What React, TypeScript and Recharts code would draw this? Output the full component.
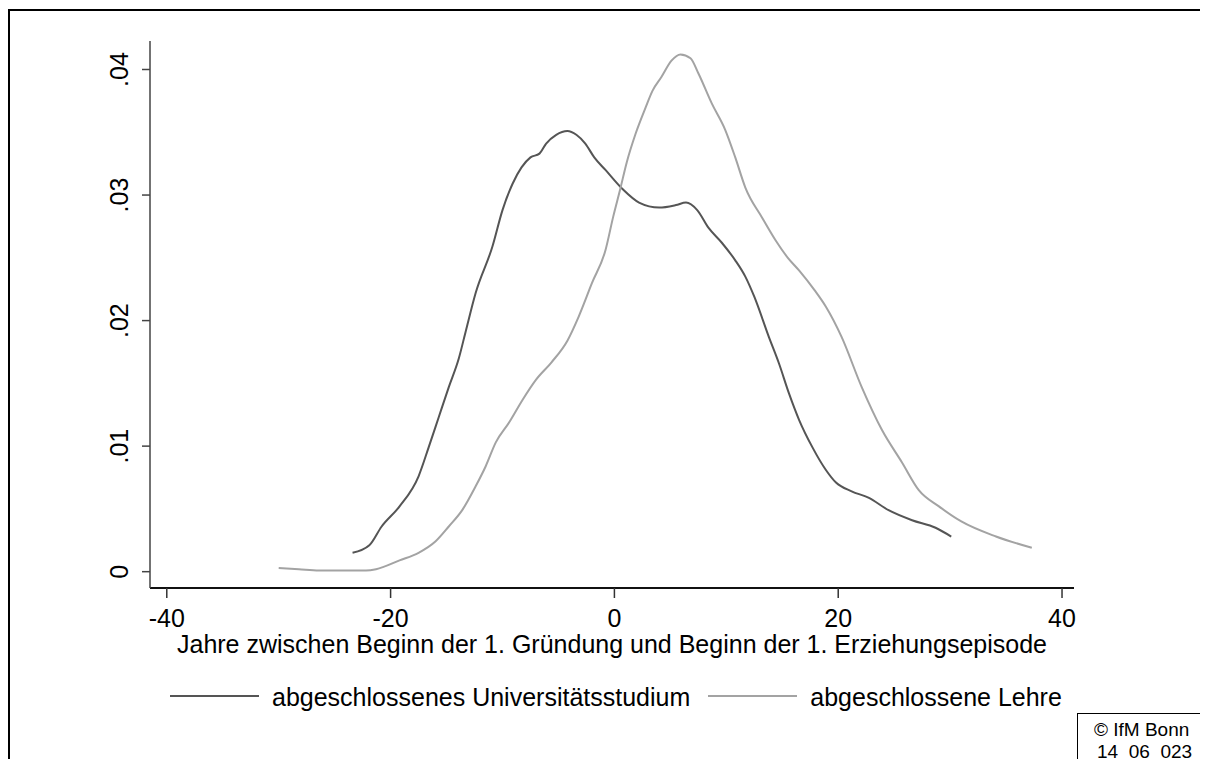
import React from 'react';
import { LineChart, Line, XAxis, YAxis } from 'recharts';

const uniX = [-23.4, -21.9, -20.8, -19.2, -17.5, -16.6, -15.7, -14.8, -13.9, -13.3, -12.4, -10.9, -10.0, -9.1, -8.3, -7.5, -6.7, -6.1, -5.2, -4.2, -3.4, -2.6, -1.8, -0.8, 0.7, 2.2, 4.0, 5.5, 6.4, 7.4, 8.4, 9.6, 10.8, 11.7, 12.5, 13.8, 14.7, 15.6, 16.5, 17.7, 18.9, 19.8, 21.2, 22.7, 24.5, 26.6, 28.7, 30.1];
const uniY = [0.0015, 0.0021, 0.0036, 0.0052, 0.0076, 0.0099, 0.0123, 0.0147, 0.0170, 0.0191, 0.0222, 0.0259, 0.0288, 0.0309, 0.0322, 0.033, 0.0333, 0.0341, 0.0348, 0.0351, 0.0348, 0.0341, 0.033, 0.032, 0.0305, 0.0294, 0.029, 0.0292, 0.0294, 0.0288, 0.0274, 0.0262, 0.0248, 0.0235, 0.0219, 0.0187, 0.0166, 0.0142, 0.0121, 0.0099, 0.0081, 0.0071, 0.0064, 0.0059, 0.0049, 0.0041, 0.0035, 0.0028];

const lehreX = [-30.0, -28.2, -26.4, -24.0, -22.2, -21.3, -19.2, -17.5, -16.0, -14.8, -13.6, -12.4, -11.5, -10.6, -9.4, -8.2, -7.0, -5.6, -4.2, -3.2, -2.0, -0.8, -0.1, 0.5, 1.1, 1.9, 2.8, 3.4, 4.2, 5.1, 5.9, 6.8, 7.5, 8.7, 9.9, 10.8, 11.7, 13.2, 14.4, 15.5, 16.5, 17.9, 18.9, 20.3, 22.1, 23.9, 25.7, 27.2, 29.0, 31.0, 34.1, 37.3];
const lehreY = [0.0003, 0.0002, 0.0001, 0.0001, 0.0001, 0.0002, 0.0009, 0.0015, 0.0024, 0.0036, 0.0049, 0.0068, 0.0084, 0.0103, 0.0119, 0.0137, 0.0153, 0.0167, 0.0184, 0.0203, 0.023, 0.0256, 0.0283, 0.0304, 0.0326, 0.0349, 0.037, 0.0383, 0.0394, 0.0407, 0.0412, 0.0409, 0.0397, 0.0373, 0.0352, 0.033, 0.0306, 0.0282, 0.0264, 0.025, 0.024, 0.0224, 0.0211, 0.0187, 0.0147, 0.0113, 0.0087, 0.0065, 0.0052, 0.004, 0.0028, 0.0019];

const xTicks = [-40, -20, 0, 20, 40];
const yTicks = [0, 0.01, 0.02, 0.03, 0.04];
const yTickLabels = ['0', '.01', '.02', '.03', '.04'];
const seriesNames = ['abgeschlossenes Universitätsstudium', 'abgeschlossene Lehre'];
const seriesColors = ['#555555', '#a3a3a3'];
const xAxisTitle = 'Jahre zwischen Beginn der 1. Gründung und Beginn der 1. Erziehungsepisode';
const sourceLines = ['© IfM Bonn', '14  06  023'];

const uniData = uniX.map((x, i) => ({ x, y: uniY[i] }));
const lehreData = lehreX.map((x, i) => ({ x, y: lehreY[i] }));
const seriesData = [uniData, lehreData];

const FONT = '"Liberation Sans", Arial, Helvetica, sans-serif';

const YTick = (props: any) => {
  const { x, y, payload } = props;
  const idx = yTicks.indexOf(payload.value);
  return (
    <text
      x={x}
      y={y}
      transform={`rotate(-90 ${x} ${y})`}
      textAnchor="middle"
      fontSize={25}
      fontFamily={FONT}
      fill="#000"
    >
      {idx >= 0 ? yTickLabels[idx] : String(payload.value)}
    </text>
  );
};

const XTitle = (props: any) => {
  const vb = props.viewBox || {};
  return (
    <text
      x={vb.x + vb.width / 2}
      y={vb.y + 65}
      textAnchor="middle"
      fontSize={25}
      fontFamily={FONT}
      fill="#000"
    >
      {xAxisTitle}
    </text>
  );
};

export default function App() {
  return (
    <div
      style={{
        position: 'relative',
        width: 1200,
        height: 759,
        marginBottom: -8,
        overflow: 'hidden',
        fontFamily: FONT,
        background: '#fff',
      }}
    >
      <LineChart width={1200} height={759} margin={{ top: 33, right: 134, bottom: 109, left: 82 }}>
        <XAxis
          type="number"
          dataKey="x"
          domain={[-41.5, 41.07]}
          allowDataOverflow
          ticks={xTicks}
          interval={0}
          height={70}
          tickSize={10}
          tickMargin={11}
          axisLine={{ stroke: '#111', strokeWidth: 2 }}
          tickLine={{ stroke: '#333', strokeWidth: 1.5 }}
          tick={{ fontSize: 25, fill: '#000', fontFamily: FONT }}
          label={<XTitle />}
        />
        <YAxis
          type="number"
          domain={[-0.0013, 0.04227]}
          allowDataOverflow
          ticks={yTicks}
          interval={0}
          width={60}
          tickSize={8}
          tickMargin={14}
          axisLine={{ stroke: '#444', strokeWidth: 1.5 }}
          tickLine={{ stroke: '#444', strokeWidth: 1.5 }}
          tick={<YTick />}
        />
        {seriesData.map((d, i) => (
          <Line
            key={seriesNames[i]}
            data={d}
            dataKey="y"
            name={seriesNames[i]}
            type="monotone"
            stroke={seriesColors[i]}
            strokeWidth={2}
            dot={false}
            activeDot={false}
            isAnimationActive={false}
          />
        ))}
      </LineChart>

      <div
        style={{
          position: 'absolute',
          left: 0,
          top: 1,
          width: 1300,
          height: 900,
          borderLeft: '2px solid #000',
          borderTop: '2px solid #000',
          boxSizing: 'border-box',
          pointerEvents: 'none',
        }}
      />

      <div
        style={{
          position: 'absolute',
          left: 162,
          top: 677,
          display: 'flex',
          alignItems: 'flex-start',
          whiteSpace: 'nowrap',
          fontSize: 25,
          lineHeight: '25px',
          color: '#000',
        }}
      >
        {seriesNames.map((n, i) => (
          <React.Fragment key={n}>
            <div style={{ width: 89, height: 2, background: seriesColors[i], marginTop: 10, marginLeft: i === 0 ? 0 : 18 }} />
            <span style={{ marginLeft: 13 }}>{n}</span>
          </React.Fragment>
        ))}
      </div>

      <div
        style={{
          position: 'absolute',
          left: 1069,
          top: 705,
          width: 300,
          height: 100,
          borderLeft: '1.5px solid #000',
          borderTop: '1.5px solid #000',
          boxSizing: 'border-box',
        }}
      />
      {sourceLines.map((s, i) => (
        <div
          key={i}
          style={{
            position: 'absolute',
            left: i === 0 ? 1086 : 1089,
            top: 711 + i * 22,
            fontSize: 19,
            lineHeight: '22px',
            whiteSpace: 'pre',
            color: '#000',
          }}
        >
          {s}
        </div>
      ))}
    </div>
  );
}
